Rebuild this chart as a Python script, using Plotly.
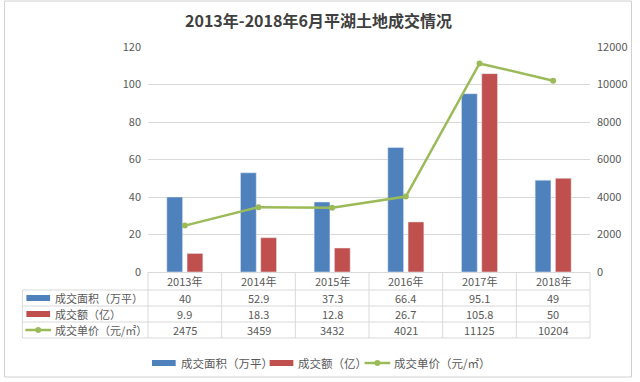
import plotly.graph_objects as go

categories = ["2013年", "2014年", "2015年", "2016年", "2017年", "2018年"]
area = [40, 52.9, 37.3, 66.4, 95.1, 49]
amount = [9.9, 18.3, 12.8, 26.7, 105.8, 50]
price = [2475, 3459, 3432, 4021, 11125, 10204]
area_labels = ["40", "52.9", "37.3", "66.4", "95.1", "49"]
amount_labels = ["9.9", "18.3", "12.8", "26.7", "105.8", "50"]
price_labels = ["2475", "3459", "3432", "4021", "11125", "10204"]
series_names = ["成交面积（万平）", "成交额（亿）", "成交单价（元/㎡）"]
left_ticks = [0, 20, 40, 60, 80, 100, 120]
right_ticks = [0, 2000, 4000, 6000, 8000, 10000, 12000]

BLUE = "#4F81BD"
RED = "#C0504D"
GREEN = "#9BBB59"
GRID = "#D9D9D9"
TXT = "#595959"
FONT = "Noto Sans CJK SC"

W, H = 640, 382
L, R, T, B = 148, 45, 47, 110
PW = W - L - R
PH = H - T - B


def px(x):
    return (x - L) / PW


def py(y):
    return (H - B - y) / PH


fig = go.Figure()
fig.add_trace(go.Bar(x=categories, y=area, name=series_names[0], marker_color=BLUE, yaxis="y"))
fig.add_trace(go.Bar(x=categories, y=amount, name=series_names[1], marker_color=RED, yaxis="y"))
fig.add_trace(go.Scatter(x=categories, y=price, name=series_names[2], mode="lines+markers",
                         line=dict(color=GREEN, width=2.5), marker=dict(size=6, color=GREEN),
                         yaxis="y2"))

annotations = []
row_y = [281, 298, 314, 330]
rows = [categories, area_labels, amount_labels, price_labels]
for r, vals in enumerate(rows):
    for c, v in zip(categories, vals):
        annotations.append(dict(x=c, xref="x", y=py(row_y[r]), yref="paper", text=v,
                                showarrow=False, font=dict(size=11, color=TXT, family=FONT),
                                xanchor="center", yanchor="middle"))
for i, nm in enumerate(series_names):
    annotations.append(dict(x=px(52), xref="paper", y=py(row_y[i + 1]), yref="paper", text=nm,
                            showarrow=False, font=dict(size=11, color=TXT, family=FONT),
                            xanchor="left", yanchor="middle"))
annotations.append(dict(x=px(320), xref="paper", y=py(20), yref="paper",
                        text="<b>2013年-2018年6月平湖土地成交情况</b>", showarrow=False,
                        font=dict(size=16, color="#404040", family=FONT), xanchor="center",
                        yanchor="middle"))

shapes = []
line = dict(color=GRID, width=1)
shapes.append(dict(type="rect", xref="paper", yref="paper", x0=px(3), x1=px(637),
                   y0=py(377), y1=py(1), line=dict(color="#D0D0D0", width=1)))
for yy in [290, 306, 322, 338]:
    shapes.append(dict(type="line", xref="paper", yref="paper", x0=px(21), x1=1,
                       y0=py(yy), y1=py(yy), line=line))
for k in range(7):
    shapes.append(dict(type="line", xref="paper", yref="paper", x0=k / 6, x1=k / 6,
                       y0=0, y1=py(338), line=line))
shapes.append(dict(type="line", xref="paper", yref="paper", x0=px(21), x1=px(21),
                   y0=py(290), y1=py(338), line=line))


def key(kind, x0, x1, yc, color):
    if kind == "bar":
        shapes.append(dict(type="rect", xref="paper", yref="paper", x0=px(x0), x1=px(x1),
                           y0=py(yc + 3), y1=py(yc - 3), fillcolor=color, line=dict(width=0)))
    else:
        shapes.append(dict(type="line", xref="paper", yref="paper", x0=px(x0), x1=px(x1),
                           y0=py(yc), y1=py(yc), line=dict(color=color, width=2.5)))
        m = (x0 + x1) / 2
        shapes.append(dict(type="circle", xref="paper", yref="paper", x0=px(m - 3),
                           x1=px(m + 3), y0=py(yc + 3), y1=py(yc - 3), fillcolor=color,
                           line=dict(width=0)))


key("bar", 25, 49, 298, BLUE)
key("bar", 25, 49, 314, RED)
key("line", 24, 50, 330, GREEN)

leg_y = 363
key("bar", 152, 176, leg_y, BLUE)
key("bar", 271, 295, leg_y, RED)
key("line", 367, 393, leg_y, GREEN)
for xt, nm in zip([179, 298, 395], series_names):
    annotations.append(dict(x=px(xt), xref="paper", y=py(leg_y), yref="paper", text=nm,
                            showarrow=False, font=dict(size=11.5, color=TXT, family=FONT),
                            xanchor="left", yanchor="middle"))

fig.update_layout(
    width=W, height=H,
    margin=dict(l=L, r=R, t=T, b=B),
    paper_bgcolor="white", plot_bgcolor="white",
    font=dict(family=FONT, size=11, color=TXT),
    barmode="group", bargap=0.45, bargroupgap=0.22,
    showlegend=False,
    xaxis=dict(showticklabels=False, showline=True, linecolor=GRID, showgrid=False,
               ticks=""),
    yaxis=dict(range=[0, 120], tickvals=left_ticks, showgrid=True, gridcolor=GRID,
               zeroline=False, showline=False, ticks="", ticklabelstandoff=6,
               tickfont=dict(size=11, color=TXT)),
    yaxis2=dict(range=[0, 12000], tickvals=right_ticks,
                ticktext=[str(v) for v in right_ticks], overlaying="y", side="right",
                showgrid=False, zeroline=False, showline=False, ticks="",
                ticklabelstandoff=6, tickfont=dict(size=11, color=TXT)),
    annotations=annotations,
    shapes=shapes,
)

fig.write_html("out.html", config={"displayModeBar": False},
               post_script="document.body.style.margin='0';")
